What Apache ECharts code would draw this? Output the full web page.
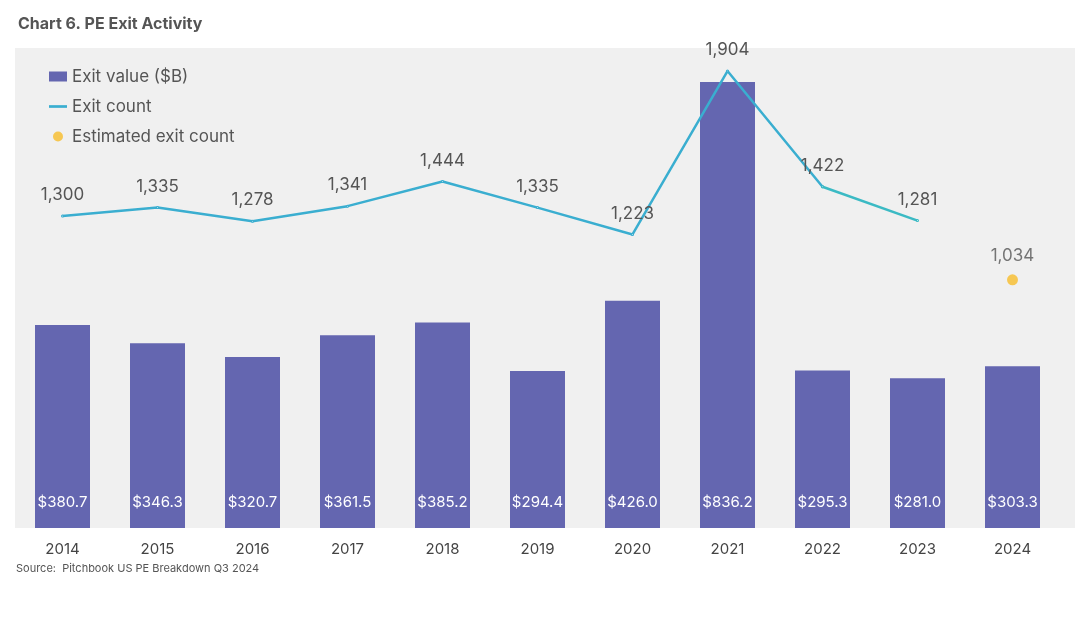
<!DOCTYPE html>
<html>
<head>
<meta charset="utf-8" />
<script src="https://cdn.jsdelivr.net/npm/echarts@6/dist/echarts.min.js"></script>
<style>html,body{margin:0;padding:0;background:#fff}#main{width:1091px;height:623px}</style>
</head>
<body>
<div id="main"></div>
<script type="text/javascript">
var years = ['2014','2015','2016','2017','2018','2019','2020','2021','2022','2023','2024'];
var exitValue = [380.7, 346.3, 320.7, 361.5, 385.2, 294.4, 426.0, 836.2, 295.3, 281.0, 303.3];
var exitCount = [1300, 1335, 1278, 1341, 1444, 1335, 1223, 1904, 1422, null, null];
var exitCountLate = [null, null, null, null, null, null, null, null, 1422, 1281, null];
var estCount = [null, null, null, null, null, null, null, null, null, null, 1034];

var myChart = echarts.init(document.getElementById('main'));
var fmt = function (p) { return p.value == null ? '' : p.value.toLocaleString('en-US'); };

option = {
    backgroundColor: '#fff',
    textStyle: { fontFamily: 'Inter' },
    title: {
        text: 'Chart 6. PE Exit Activity',
        left: 13, top: 11,
        textStyle: { color: '#555', fontSize: 16, fontWeight: 'bold' }
    },
    graphic: [
        { type: 'rect', z: -10, shape: { x: 15, y: 48, width: 1060, height: 480 }, style: { fill: '#f0f0f0' } },
        { type: 'text', left: 16, top: 563,
          style: { text: 'Source:  Pitchbook US PE Breakdown Q3 2024', fill: '#555', fontSize: 11, fontFamily: 'Inter' } }
    ],
    grid: { left: 15, right: 31, top: 48, bottom: 95 },
    legend: {
        orient: 'vertical', left: 44, top: 63, itemGap: 13,
        textStyle: { color: '#555', fontSize: 17 },
        data: [
            { name: 'Exit value ($B)', icon: 'rect', itemStyle: { color: '#6466b0' } },
            { name: 'Exit count', icon: 'path://M0,4L20,4L20,7L0,7Z' },
            { name: 'Estimated exit count', icon: 'circle' }
        ],
        itemWidth: 18, itemHeight: 10
    },
    xAxis: {
        type: 'category', data: years,
        axisLine: { show: false }, axisTick: { show: false },
        axisLabel: { color: '#444', fontSize: 15, margin: 14 }
    },
    yAxis: [
        { type: 'value', min: 0, max: 900, show: false, splitLine: { show: false } },
        { type: 'value', min: 0, max: 2000, show: false, splitLine: { show: false } }
    ],
    series: [
        {
            name: 'Exit value ($B)', type: 'bar', data: exitValue, barWidth: 55,
            itemStyle: { color: '#6466b0' },
            label: { show: true, position: 'insideBottom', distance: 18, color: '#fff', fontSize: 15,
                formatter: function (p) { return '$' + p.value.toFixed(1); } }
        },
        {
            name: 'Exit count', type: 'line', yAxisIndex: 1, data: exitCount,
            showSymbol: true, symbolSize: 1, lineStyle: { color: '#3aaed0', width: 2.5 }, itemStyle: { color: '#3aaed0' },
            label: { show: true, position: 'top', distance: 11, color: '#555', fontSize: 17, formatter: fmt }
        },
        {
            name: 'Exit count late', type: 'line', yAxisIndex: 1, data: exitCountLate,
            showSymbol: true, symbolSize: 1, lineStyle: { color: '#3bbac4', width: 2.5 }, itemStyle: { color: '#3bbac4' },
            label: { show: true, position: 'top', distance: 11, color: '#555', fontSize: 17,
                formatter: function (p) { return p.dataIndex === 9 ? p.value.toLocaleString('en-US') : ''; } }
        },
        {
            name: 'Estimated exit count', type: 'scatter', yAxisIndex: 1, data: estCount,
            symbolSize: 11, itemStyle: { color: '#f7bd2a' },
            label: { show: true, position: 'top', distance: 10, color: '#555', fontSize: 17, formatter: fmt }
        }
    ]
};
myChart.setOption(option);
</script>
</body>
</html>
